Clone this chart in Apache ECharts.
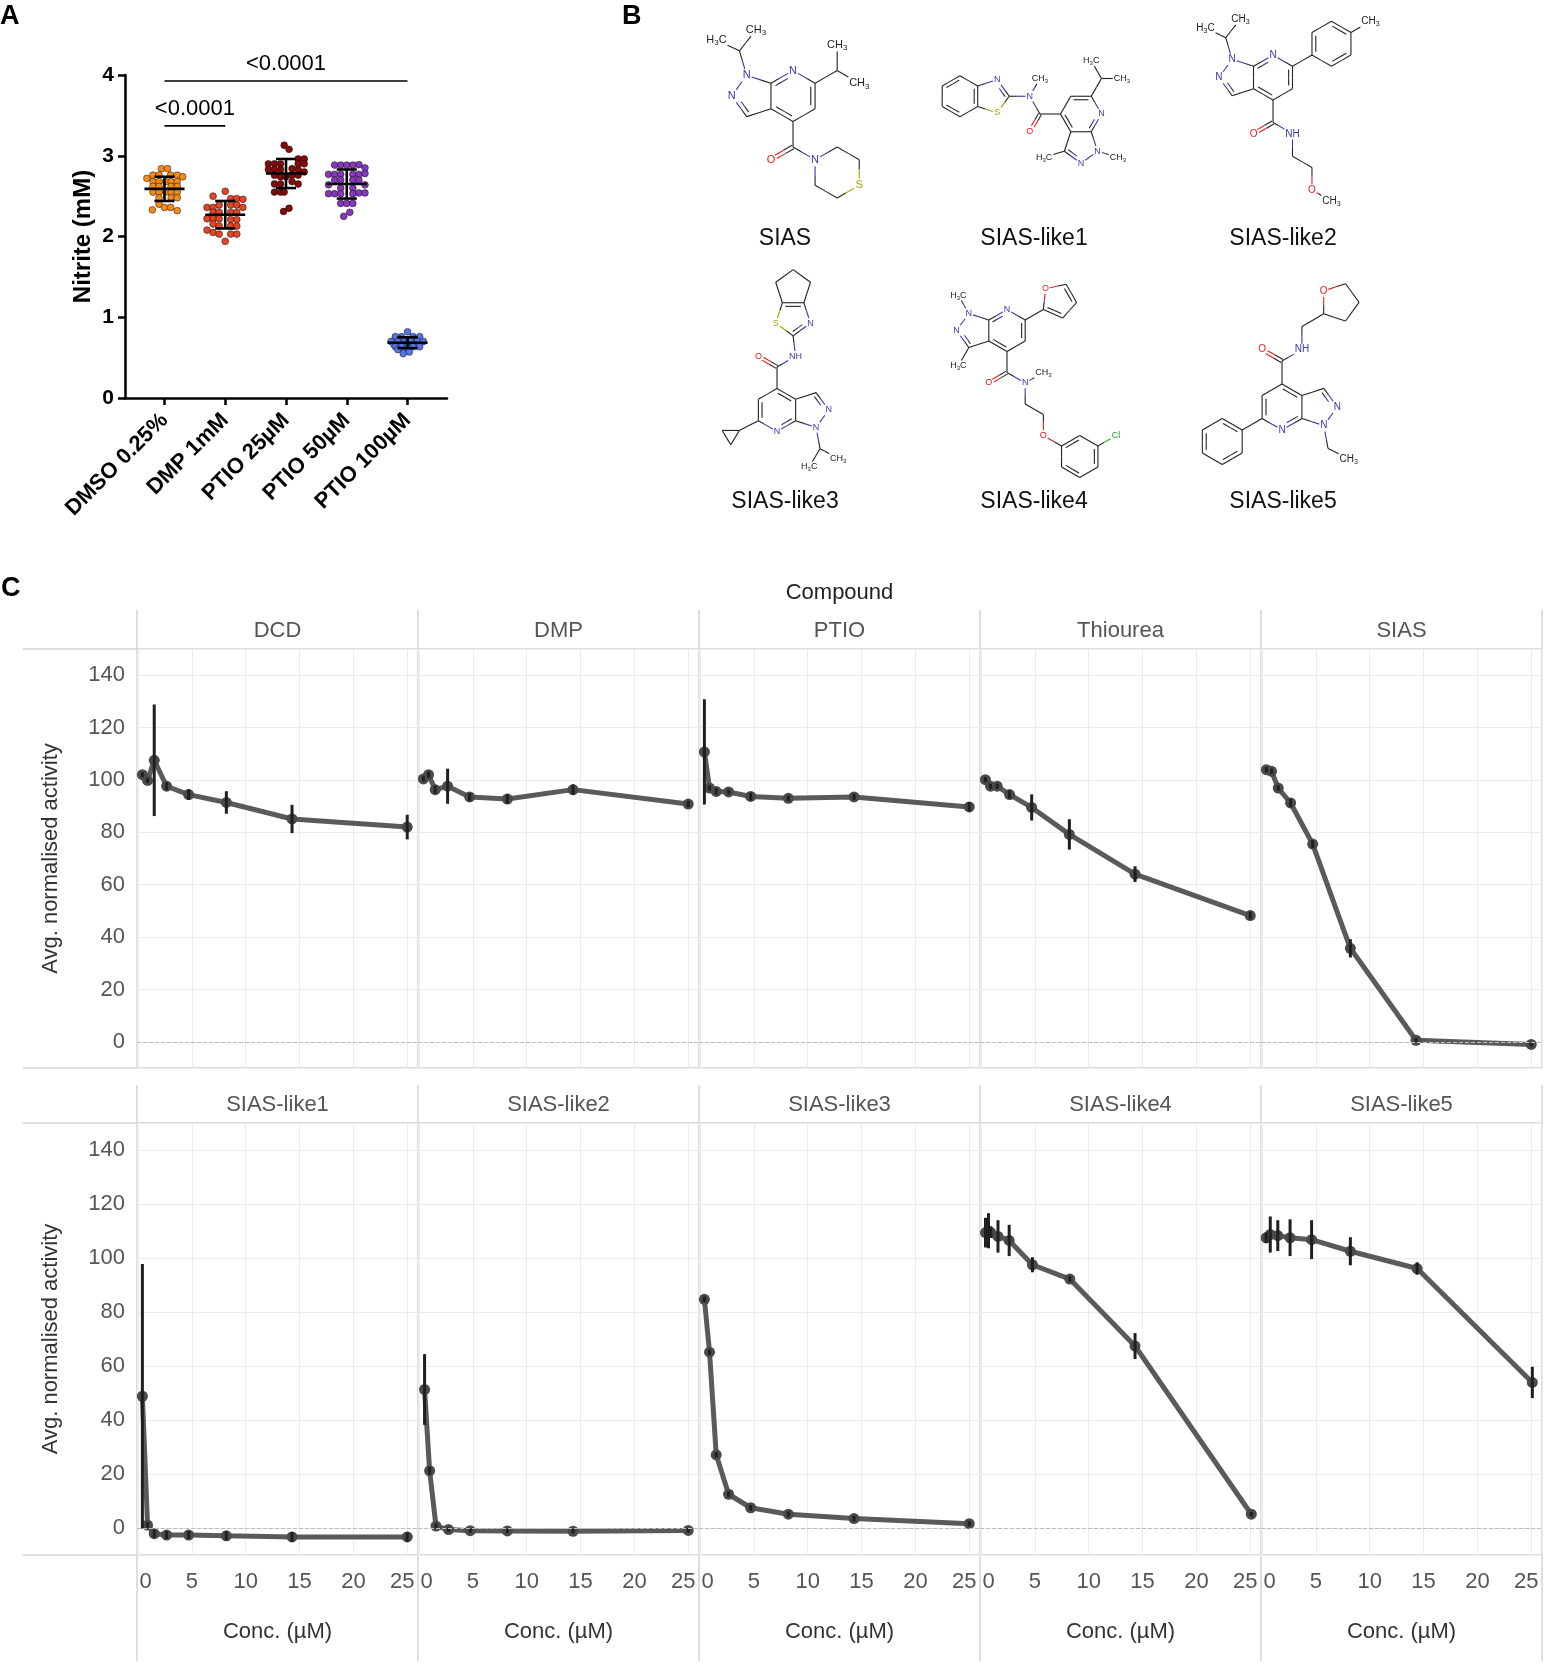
<!DOCTYPE html>
<html>
<head>
<meta charset="utf-8">
<script src="https://cdn.jsdelivr.net/npm/echarts@6.0.0/dist/echarts.min.js"></script>
<style>
html,body{margin:0;padding:0;background:#fff}
#main{width:1552px;height:1669px}
</style>
</head>
<body>
<div id="main"></div>
<script>
// ---------- panel A : nitrite per treatment (jitter offset, value) ----------
var groupNames = ['DMSO 0.25%', 'DMP 1mM', 'PTIO 25\u00B5M', 'PTIO 50\u00B5M', 'PTIO 100\u00B5M'];
var groupColors = ['#F38B1B', '#DF4727', '#820B0B', '#8538BA', '#5676E5'];
var dmsoPts = [[-0.05,2.84],[0.05,2.84],[-0.29,2.72],[-0.19,2.76],[-0.09,2.76],[0.10,2.76],[0.21,2.76],[0.30,2.74],
  [-0.19,2.68],[-0.09,2.68],[0.02,2.68],[0.11,2.68],[0.21,2.68],[-0.19,2.62],[-0.09,2.62],[0.11,2.62],[0.21,2.62],
  [-0.19,2.55],[-0.09,2.55],[0.02,2.55],[0.11,2.55],[0.21,2.55],[-0.09,2.48],[0.11,2.48],[0.21,2.48],
  [-0.09,2.40],[0,2.36],[0.10,2.36],[0.21,2.32],[-0.20,2.33]];
var dmpPts = [[0,2.56],[-0.20,2.50],[0.09,2.47],[0.19,2.47],[0.29,2.46],[-0.30,2.36],[-0.20,2.36],[-0.10,2.39],
  [0.09,2.39],[0.19,2.39],[0.29,2.36],[-0.20,2.30],[-0.10,2.30],[0.09,2.30],[0.19,2.30],[-0.30,2.22],[-0.20,2.22],
  [-0.10,2.22],[0.09,2.21],[0.19,2.21],[-0.20,2.155],[-0.10,2.13],[0.09,2.13],[0.19,2.13],[-0.30,2.08],
  [-0.20,2.05],[-0.10,2.03],[0.09,2.03],[0.19,2.03],[0,1.94]];
var ptio25Pts = [[-0.03,3.13],[0.05,3.08],[0.20,2.96],[0.30,2.96],[-0.29,2.90],[-0.19,2.90],[-0.09,2.90],[0.20,2.90],
  [0.30,2.90],[-0.29,2.83],[-0.19,2.83],[-0.09,2.83],[0.10,2.84],[0.20,2.83],[0.30,2.80],[-0.19,2.76],[-0.09,2.74],
  [0,2.74],[0.10,2.76],[0.20,2.76],[-0.19,2.65],[-0.09,2.65],[0.10,2.68],[0.20,2.65],[-0.19,2.55],[-0.09,2.55],
  [-0.03,2.55],[-0.04,2.31],[0.05,2.35]];
var ptio50Pts = [[-0.20,2.885],[-0.10,2.885],[0,2.885],[0.10,2.885],[0.20,2.89],[0.30,2.85],[-0.30,2.77],[-0.20,2.77],
  [-0.10,2.77],[0.10,2.77],[0.20,2.77],[0.30,2.78],[-0.20,2.70],[-0.10,2.70],[0.10,2.70],[0.20,2.70],[-0.30,2.64],
  [-0.10,2.60],[0.10,2.60],[0.30,2.64],[-0.30,2.53],[-0.20,2.53],[-0.10,2.53],[0.10,2.53],[0.20,2.54],[0.30,2.54],
  [-0.10,2.41],[0,2.41],[0.10,2.41],[0.05,2.30],[-0.05,2.25]];
var ptio100Pts = [[0,0.82],[-0.20,0.76],[-0.10,0.76],[0.09,0.76],[0.20,0.76],[-0.12,0.73],[0.12,0.73],[-0.27,0.70],
  [-0.16,0.70],[-0.05,0.70],[0.05,0.70],[0.16,0.70],[0.26,0.70],[-0.22,0.66],[-0.02,0.67],[0.12,0.66],[-0.20,0.635],
  [-0.10,0.635],[0,0.62],[0.09,0.635],[0.20,0.635],[-0.16,0.60],[-0.07,0.55],[0.03,0.57]];
var groupPts = [dmsoPts, dmpPts, ptio25Pts, ptio50Pts, ptio100Pts];
var groupMean = [2.59, 2.27, 2.78, 2.65, 0.685];
var groupSD = [0.15, 0.17, 0.18, 0.18, 0.067];
var pLabel = '<0.0001';

// ---------- panel C : dose response ----------
var compounds = ['DCD', 'DMP', 'PTIO', 'Thiourea', 'SIAS', 'SIAS-like1', 'SIAS-like2', 'SIAS-like3', 'SIAS-like4', 'SIAS-like5'];
var concA = [0.4, 0.88, 1.5, 2.65, 4.7, 8.2, 14.3, 25];
var concLike2 = [0.51, 0.98, 1.57, 2.74, 4.75, 8.2, 14.3, 25];
var concLike4 = [0.41, 0.69, 0.91, 1.57, 2.61, 4.77, 8.24, 14.3, 25.1];
var concLike5 = [0.38, 0.76, 1.46, 2.6, 4.6, 8.2, 14.4, 25.1];
var dcdMean = [102.0, 99.8, 107.5, 97.6, 94.4, 91.4, 85.1, 82.0];
var dcdSD = [1.0, 1.0, 21.3, 1.5, 2.0, 4.3, 5.4, 4.7];
var dmpMean = [100.4, 102.0, 96.3, 97.6, 93.5, 92.7, 96.3, 90.8];
var dmpSD = [1.0, 1.2, 1.5, 6.7, 1.5, 1.8, 2.0, 1.2];
var ptioMean = [110.7, 96.9, 95.6, 95.4, 93.7, 93.0, 93.5, 89.7];
var ptioSD = [20.1, 1.0, 1.2, 1.0, 1.5, 1.0, 1.2, 1.8];
var thioMean = [100.1, 97.6, 97.6, 94.4, 89.5, 79.2, 64.0, 48.2];
var thioSD = [1.0, 1.0, 1.0, 1.5, 5.0, 5.8, 3.0, 1.5];
var siasMean = [103.9, 103.3, 96.9, 91.2, 75.5, 35.7, 0.6, -1.0];
var siasSD = [1.0, 1.0, 1.0, 1.5, 1.5, 3.5, 0.8, 0.8];
var like1Mean = [48.8, 1.1, -2.1, -2.6, -2.6, -2.9, -3.3, -3.3];
var like1SD = [49.0, 1.0, 1.5, 1.5, 1.5, 1.7, 1.8, 1.8];
var like2Mean = [51.3, 21.2, 0.7, -0.6, -1.0, -1.1, -1.2, -0.9];
var like2SD = [13.1, 1.5, 1.0, 0.8, 0.8, 0.8, 0.8, 0.8];
var like3Mean = [84.7, 65.1, 27.1, 12.5, 7.5, 5.1, 3.5, 1.6];
var like3SD = [1.0, 1.0, 1.0, 1.0, 1.0, 1.0, 1.0, 1.0];
var like4Mean = [109.4, 110.1, 109.4, 108.0, 106.5, 97.5, 92.2, 67.4, 5.1];
var like4SD = [5.5, 6.5, 2.0, 6.0, 5.8, 2.8, 1.0, 4.8, 0.8];
var like5Mean = [107.5, 108.7, 108.3, 107.5, 106.8, 102.5, 96.1, 53.9];
var like5SD = [2.0, 6.7, 5.7, 6.8, 7.2, 5.2, 2.3, 5.8];
var concTicks = [0, 5, 10, 15, 20, 25];
var activityTicks = [0, 20, 40, 60, 80, 100, 120, 140];

var facetConc = [concA, concA, concA, concA, concA, concA, concLike2, concA, concLike4, concLike5];
var facetMean = [dcdMean, dmpMean, ptioMean, thioMean, siasMean, like1Mean, like2Mean, like3Mean, like4Mean, like5Mean];
var facetSD = [dcdSD, dmpSD, ptioSD, thioSD, siasSD, like1SD, like2SD, like3SD, like4SD, like5SD];

var FONT = '"Liberation Sans", Arial, Helvetica, sans-serif';
var PX0 = 137, PW = 281;
var ROWS = [{strip: 610, top: 649, h: 419, end: 1068}, {strip: 1085, top: 1123, h: 432, end: 1661}];

var chart = echarts.init(document.getElementById('main'));

var grids = [{left: 125, top: 75, width: 322, height: 323}];
var xAxes = [{
  gridIndex: 0, type: 'value', min: 0.35, max: 5.65,
  axisLine: {show: true, onZero: false, lineStyle: {color: '#000', width: 2.5}},
  axisTick: {show: true, length: 7, lineStyle: {color: '#000', width: 2.5}, customValues: [1, 2, 3, 4, 5]},
  axisLabel: {customValues: [1, 2, 3, 4, 5], rotate: 45, margin: 19, color: '#000', fontSize: 22, fontWeight: 'bold',
    fontFamily: FONT, formatter: function (v) { return groupNames[Math.round(v) - 1]; }},
  splitLine: {show: false}
}];
var yAxes = [{
  gridIndex: 0, type: 'value', min: 0, max: 4, interval: 1,
  axisLine: {show: true, lineStyle: {color: '#000', width: 2.5}},
  axisTick: {show: true, length: 7, lineStyle: {color: '#000', width: 2.5}},
  axisLabel: {color: '#000', fontSize: 21, fontWeight: 'bold', margin: 11, fontFamily: FONT},
  splitLine: {show: false},
  name: 'Nitrite (mM)', nameLocation: 'middle', nameGap: 30,
  nameTextStyle: {color: '#000', fontSize: 24, fontWeight: 'bold', fontFamily: FONT}
}];
var series = [];

groupPts.forEach(function (pts, g) {
  series.push({
    type: 'scatter', xAxisIndex: 0, yAxisIndex: 0, symbolSize: 6.8, z: 2,
    itemStyle: {color: groupColors[g], borderColor: 'rgba(0,0,0,0.65)', borderWidth: 0.7, opacity: 1},
    data: pts.map(function (p) { return [g + 1 + p[0], p[1]]; })
  });
});
series.push({
  type: 'custom', xAxisIndex: 0, yAxisIndex: 0, z: 5,
  data: groupMean.map(function (m, g) { return [g + 1, m, groupSD[g]]; }),
  encode: {x: 0, y: 1},
  renderItem: function (params, api) {
    var x = api.value(0), m = api.value(1), sd = api.value(2);
    var st = {stroke: '#000', lineWidth: 2.6};
    function seg(a, b) { return {type: 'line', shape: {x1: a[0], y1: a[1], x2: b[0], y2: b[1]}, style: st}; }
    return {type: 'group', children: [
      seg(api.coord([x - 0.33, m]), api.coord([x + 0.33, m])),
      seg(api.coord([x, m - sd]), api.coord([x, m + sd])),
      seg(api.coord([x - 0.165, m + sd]), api.coord([x + 0.165, m + sd])),
      seg(api.coord([x - 0.165, m - sd]), api.coord([x + 0.165, m - sd]))
    ]};
  }
});

// facets
compounds.forEach(function (name, k) {
  var r = Math.floor(k / 5), c = k % 5, row = ROWS[r];
  var gi = k + 1;
  grids.push({left: PX0 + PW * c, top: row.top, width: PW, height: row.h});
  xAxes.push({
    gridIndex: gi, type: 'value', min: -0.1, max: 26, splitNumber: 5,
    axisLine: {show: false}, axisTick: {show: false},
    axisLabel: {show: r === 1, customValues: concTicks, color: '#555', fontSize: 22, margin: 16, fontFamily: FONT,
      formatter: function (v) { return v === 0 ? '{l|0}' : (v === 25 ? '{r|25}' : String(v)); },
      rich: {l: {fontSize: 22, color: '#555', fontFamily: FONT, padding: [0, 0, 0, 15]},
        r: {fontSize: 22, color: '#555', fontFamily: FONT, padding: [0, 10, 0, 0]}}},
    splitLine: {show: true, lineStyle: {color: '#ececec', width: 1}},
    name: r === 1 ? 'Conc. (\u00B5M)' : '', nameLocation: 'middle', nameGap: 66,
    nameTextStyle: {color: '#333', fontSize: 22, fontFamily: FONT}
  });
  yAxes.push({
    gridIndex: gi, type: 'value', min: -10, max: 150, splitNumber: 8,
    axisLine: {show: false}, axisTick: {show: false},
    axisLabel: {show: c === 0, customValues: activityTicks, color: '#555', fontSize: 22, margin: 12, fontFamily: FONT},
    splitLine: {show: true, lineStyle: {color: '#ececec', width: 1}},
    name: c === 0 ? 'Avg. normalised activity' : '', nameLocation: 'middle', nameGap: 75,
    nameTextStyle: {color: '#333', fontSize: 22, fontFamily: FONT}
  });
  var conc = facetConc[k], mean = facetMean[k], sd = facetSD[k];
  series.push({
    type: 'line', xAxisIndex: gi, yAxisIndex: gi, z: 3,
    data: conc.map(function (x, i) { return [x, mean[i]]; }),
    lineStyle: {color: '#5a5a5a', width: 5},
    symbol: 'circle', symbolSize: 11, itemStyle: {color: '#4a4a4a'},
    markLine: {silent: true, symbol: 'none', label: {show: false},
      lineStyle: {color: '#bdbdbd', type: 'dashed', width: 1}, data: [{yAxis: 0}]}
  });
  series.push({
    type: 'custom', xAxisIndex: gi, yAxisIndex: gi, z: 4,
    data: conc.map(function (x, i) { return [x, mean[i] - sd[i], mean[i] + sd[i]]; }),
    encode: {x: 0, y: [1, 2]},
    renderItem: function (params, api) {
      var a = api.coord([api.value(0), api.value(1)]), b = api.coord([api.value(0), api.value(2)]);
      return {type: 'line', shape: {x1: a[0], y1: a[1], x2: b[0], y2: b[1]}, style: {stroke: '#1f1f1f', lineWidth: 3}};
    }
  });
});

// ---------- static decoration ----------
var gfx = [];
function gline(x1, y1, x2, y2, color, w) {
  gfx.push({type: 'line', silent: true, shape: {x1: x1, y1: y1, x2: x2, y2: y2}, style: {stroke: color, lineWidth: w}});
}
function gtext(x, y, t, size, color, weight, extra) {
  var st = {text: t, x: x, y: y, fill: color, fontSize: size, fontWeight: weight || 'normal', fontFamily: FONT,
    align: 'center', verticalAlign: 'middle', textAlign: 'center', textVerticalAlign: 'middle'};
  if (extra) for (var key in extra) st[key] = extra[key];
  gfx.push({type: 'text', silent: true, z: 10, style: st});
}

gtext(0, 17, 'A', 27, '#000', 'bold', {align: 'left', textAlign: 'left'});
gtext(622, 17, 'B', 27, '#000', 'bold', {align: 'left', textAlign: 'left'});
gtext(1, 589, 'C', 27, '#000', 'bold', {align: 'left', textAlign: 'left'});

// facet frame
[649, 1068, 1123, 1555].forEach(function (y) { gline(23, y, PX0 + PW * 5, y, '#d3d3d3', 1.5); });
for (var kk = 0; kk <= 5; kk++) {
  gline(PX0 + PW * kk, ROWS[0].strip, PX0 + PW * kk, ROWS[0].end, '#d3d3d3', 1.5);
  gline(PX0 + PW * kk, ROWS[1].strip, PX0 + PW * kk, ROWS[1].end, '#d3d3d3', 1.5);
}
compounds.forEach(function (name, k) {
  var r = Math.floor(k / 5), c = k % 5;
  gtext(PX0 + PW * (c + 0.5), (ROWS[r].strip + ROWS[r].top) / 2 + 1, name, 22, '#555');
});
gtext(PX0 + PW * 2.5, 593, 'Compound', 22, '#222');

// ---------- panel B : structures ----------
function elemColor(l) {
  if (!l) return '#222';
  if (l === 'Cl') return '#22a022';
  if (l[0] === 'N') return '#3838b0';
  if (l[0] === 'O') return '#e4201e';
  if (l[0] === 'S') return '#a6a000';
  return '#222';
}
function ID(p) { return [p[0], p[1]]; }
function R180(p) { return [-p[0], -p[1]]; }
function FLIP(p) { return [-p[1], -p[0]]; }
function molecule(T, extra, extraBonds, ox, oy, s) {
  var core = [[0, -1, 'N'], [0.866, -0.5], [0.866, 0.5], [0, 1], [-0.866, 0.5], [-0.866, -0.5],
    [-1.817, -0.809, 'N'], [-2.405, 0, 'N'], [-1.817, 0.809]];
  var pc = T([0, 0]), zc = T([-1.554, 0]);
  var atoms = core.map(function (p) { var q = T(p); return [q[0], q[1], p[2] || '']; }).concat(extra.map(function (a) {
    return [a[0], a[1], a[2] || ''];
  }));
  var bonds = [[0, 1, 1], [1, 2, 2, pc], [2, 3, 1], [3, 4, 2, pc], [4, 5, 1], [5, 0, 2, pc], [5, 6, 1], [6, 7, 1],
    [7, 8, 2, zc], [8, 4, 1]].concat(extraBonds);
  return {atoms: atoms, bonds: bonds, ox: ox, oy: oy, s: s};
}
function drawMol(m) {
  var fs = Math.round(m.s * 0.44);
  var P = m.atoms.map(function (a) { return [m.ox + a[0] * m.s, m.oy + a[1] * m.s]; });
  function box(l) {
    if (!l) return null;
    var w = 0;
    for (var i = 0; i < l.length; i++) w += /\d/.test(l[i]) ? fs * 0.42 : (l[i] === 'l' ? fs * 0.3 : fs * 0.68);
    return [w / 2 + 1.2, fs * 0.58];
  }
  function clip(p, q, l) {
    var b = box(l);
    if (!b) return p;
    var dx = q[0] - p[0], dy = q[1] - p[1], L = Math.hypot(dx, dy), ux = dx / L, uy = dy / L;
    var t = Math.min(Math.abs(ux) > 1e-6 ? b[0] / Math.abs(ux) : 1e9, Math.abs(uy) > 1e-6 ? b[1] / Math.abs(uy) : 1e9);
    return [p[0] + ux * t, p[1] + uy * t];
  }
  function seg(a, b, la, lb) {
    var mid = [(a[0] + b[0]) / 2, (a[1] + b[1]) / 2];
    gline(a[0], a[1], mid[0], mid[1], elemColor(la), 1.1);
    gline(mid[0], mid[1], b[0], b[1], elemColor(lb), 1.1);
  }
  m.bonds.forEach(function (bd) {
    var la = m.atoms[bd[0]][2], lb = m.atoms[bd[1]][2];
    var a = clip(P[bd[0]], P[bd[1]], la), b = clip(P[bd[1]], P[bd[0]], lb);
    var dx = b[0] - a[0], dy = b[1] - a[1], L = Math.hypot(dx, dy), nx = -dy / L, ny = dx / L;
    if (bd[2] === 2 && !bd[3]) {
      var o = m.s * 0.075;
      seg([a[0] + nx * o, a[1] + ny * o], [b[0] + nx * o, b[1] + ny * o], la, lb);
      seg([a[0] - nx * o, a[1] - ny * o], [b[0] - nx * o, b[1] - ny * o], la, lb);
      return;
    }
    seg(a, b, la, lb);
    if (bd[2] === 2) {
      var c = [m.ox + bd[3][0] * m.s, m.oy + bd[3][1] * m.s];
      var mx = (a[0] + b[0]) / 2, my = (a[1] + b[1]) / 2;
      var side = ((c[0] - mx) * nx + (c[1] - my) * ny) > 0 ? 1 : -1;
      var off = m.s * 0.17 * side, sh = 0.14;
      seg([a[0] + dx * sh + nx * off, a[1] + dy * sh + ny * off], [b[0] - dx * sh + nx * off, b[1] - dy * sh + ny * off], la, lb);
    }
  });
  m.atoms.forEach(function (a, i) {
    if (!a[2]) return;
    var col = elemColor(a[2]);
    var rich = a[2].split(/(\d)/).filter(Boolean).map(function (p) {
      return /\d/.test(p) ? '{s|' + p + '}' : '{a|' + p + '}';
    }).join('');
    gfx.push({type: 'text', silent: true, z: 10, style: {
      text: rich, x: P[i][0], y: P[i][1], fill: col, fontFamily: FONT, fontSize: fs,
      align: 'center', verticalAlign: 'middle', textAlign: 'center', textVerticalAlign: 'middle',
      rich: {a: {fontSize: fs, fill: col, fontFamily: FONT, lineHeight: fs * 1.3},
        s: {fontSize: Math.round(fs * 0.7), fill: col, fontFamily: FONT, verticalAlign: 'bottom', lineHeight: fs * 0.95}}
    }});
  });
}

var mols = [
  molecule(ID, [[-2.1, -1.77], [-3.0, -2.2, 'H3C'], [-1.45, -2.6, 'CH3'], [1.732, -1.0], [1.732, -2.0, 'CH3'], [2.6, -0.5, 'CH3'],
    [0, 2], [-0.866, 2.5, 'O'], [0.866, 2.5, 'N'], [1.732, 2.0], [2.598, 2.5], [2.598, 3.5, 'S'], [1.732, 4.0], [0.866, 3.5]],
    [[6, 9, 1], [9, 10, 1], [9, 11, 1], [1, 12, 1], [12, 13, 1], [12, 14, 1], [3, 15, 1], [15, 16, 2], [15, 17, 1],
      [17, 18, 1], [18, 19, 1], [19, 20, 1], [20, 21, 1], [21, 22, 1], [22, 17, 1]], 793, 96, 25.5),
  molecule(FLIP, [[-2, 0], [-2.5, 0.866, 'O'], [-2.5, -0.866, 'N'], [-2.0, -1.732, 'CH3'], [-3.5, -0.866],
    [-4.088, -1.675, 'N'], [-5.039, -1.366], [-5.039, -0.366], [-4.088, -0.057, 'S'], [-5.905, -1.866], [-6.771, -1.366],
    [-6.771, -0.366], [-5.905, 0.134], [1, -1.732], [0.5, -2.598, 'H3C'], [2, -1.732, 'CH3'], [1.8, 2.1, 'CH3'], [-1.8, 2.1, 'H3C']],
    [[3, 9, 1], [9, 10, 2], [9, 11, 1], [11, 12, 1], [11, 13, 1], [13, 14, 2, [-4.351, -0.866]], [14, 15, 1],
      [15, 16, 2, [-5.905, -0.866]], [16, 17, 1], [17, 13, 1], [15, 18, 1], [18, 19, 2, [-5.905, -0.866]], [19, 20, 1],
      [20, 21, 2, [-5.905, -0.866]], [21, 16, 1], [1, 22, 1], [22, 23, 1], [22, 24, 1], [6, 25, 1], [8, 26, 1]], 1081, 114, 20.5),
  molecule(ID, [[-2.1, -1.77], [-3.0, -2.2, 'H3C'], [-1.45, -2.6, 'CH3'], [1.732, -1.0], [1.732, -2.0], [2.598, -2.5],
    [3.464, -2.0], [3.464, -1.0], [2.598, -0.5], [4.33, -2.5, 'CH3'], [0, 2], [-0.866, 2.5, 'O'], [0.866, 2.5, 'NH'],
    [0.866, 3.5], [1.732, 4.0], [1.732, 5.0, 'O'], [2.598, 5.5, 'CH3']],
    [[6, 9, 1], [9, 10, 1], [9, 11, 1], [1, 12, 1], [12, 13, 2, [2.598, -1.5]], [13, 14, 1], [14, 15, 2, [2.598, -1.5]],
      [15, 16, 1], [16, 17, 2, [2.598, -1.5]], [17, 12, 1], [15, 18, 1], [3, 19, 1], [19, 20, 2], [19, 21, 1],
      [21, 22, 1], [22, 23, 1], [23, 24, 1], [24, 25, 1]], 1273, 77.5, 22.5),
  molecule(R180, [[-1.75, 0.95], [-2.55, 0.95], [-2.15, 1.62], [2.0, 1.8], [2.85, 2.25, 'CH3'], [1.5, 2.65, 'H3C'],
    [0, -2], [-0.866, -2.5, 'O'], [0.866, -2.5, 'NH'], [0.75, -3.45], [1.559, -4.038, 'N'], [1.25, -4.989], [0.25, -4.989],
    [-0.059, -4.038, 'S'], [1.559, -5.94], [0.75, -6.528], [-0.059, -5.94]],
    [[1, 9, 1], [9, 10, 1], [10, 11, 1], [11, 9, 1], [6, 12, 1], [12, 13, 1], [12, 14, 1], [3, 15, 1], [15, 16, 2],
      [15, 17, 1], [17, 18, 1], [18, 19, 2, [0.75, -4.301]], [19, 20, 1], [20, 21, 2, [0.75, -4.301]], [21, 22, 1],
      [22, 18, 1], [20, 23, 1], [23, 24, 1], [24, 25, 1], [25, 21, 1]], 777, 410, 21.5),
  molecule(ID, [[-2.317, -1.675, 'H3C'], [-2.317, 1.675, 'H3C'], [1.732, -1.0], [2.646, -0.593], [3.315, -1.336],
    [2.815, -2.203], [1.837, -1.995, 'O'], [0, 2], [-0.866, 2.5, 'O'], [0.866, 2.5, 'N'], [1.732, 2.0, 'CH3'],
    [0.866, 3.5], [1.732, 4.0], [1.732, 5.0, 'O'], [2.598, 5.5], [3.464, 5.0], [4.33, 5.5], [4.33, 6.5], [3.464, 7.0],
    [2.598, 6.5], [5.196, 5.0, 'Cl']],
    [[6, 9, 1], [8, 10, 1], [1, 11, 1], [11, 12, 2, [2.469, -1.426]], [12, 13, 1], [13, 14, 2, [2.469, -1.426]],
      [14, 15, 1], [15, 11, 1], [3, 16, 1], [16, 17, 2], [16, 18, 1], [18, 19, 1], [18, 20, 1], [20, 21, 1], [21, 22, 1],
      [22, 23, 1], [23, 24, 2, [3.464, 6.0]], [24, 25, 1], [25, 26, 2, [3.464, 6.0]], [26, 27, 1],
      [27, 28, 2, [3.464, 6.0]], [28, 23, 1], [25, 29, 1]], 1007, 330.5, 21),
  molecule(R180, [[-1.732, 1.0], [-2.598, 0.5], [-3.464, 1.0], [-3.464, 2.0], [-2.598, 2.5], [-1.732, 2.0],
    [2.0, 1.8], [2.9, 2.25, 'CH3'], [0, -2], [-0.866, -2.5, 'O'], [0.866, -2.5, 'NH'], [0.866, -3.5], [1.812, -4.05],
    [1.812, -5.05, 'O'], [2.763, -5.359], [3.351, -4.55], [2.763, -3.741]],
    [[1, 9, 1], [9, 10, 2, [-2.598, 1.5]], [10, 11, 1], [11, 12, 2, [-2.598, 1.5]], [12, 13, 1],
      [13, 14, 2, [-2.598, 1.5]], [14, 9, 1], [6, 15, 1], [15, 16, 1], [3, 17, 1], [17, 18, 2], [17, 19, 1],
      [19, 20, 1], [20, 21, 1], [21, 22, 1], [22, 23, 1], [23, 24, 1], [24, 25, 1], [25, 21, 1]], 1282, 407, 23)
];
mols.forEach(drawMol);
var molNames = ['SIAS', 'SIAS-like1', 'SIAS-like2', 'SIAS-like3', 'SIAS-like4', 'SIAS-like5'];
molNames.forEach(function (n, i) {
  gtext([785, 1034, 1283][i % 3], i < 3 ? 239 : 502, n, 23, '#111');
});

chart.setOption({
  animation: false,
  backgroundColor: '#fff',
  textStyle: {fontFamily: FONT},
  grid: grids, xAxis: xAxes, yAxis: yAxes, series: series, graphic: gfx
});

// significance brackets, placed through panel A scales
function px(x, y) { return chart.convertToPixel({xAxisIndex: 0, yAxisIndex: 0}, [x, y]); }
var a1 = px(1, 3.37), a2 = px(2, 3.37), t1 = px(1.5, 3.575);
var b1 = px(1, 3.926), b2 = px(5, 3.926), t2 = px(3, 4.135);
gline(a1[0], a1[1], a2[0], a2[1], '#000', 1.6);
gline(b1[0], b1[1], b2[0], b2[1], '#000', 1.6);
gtext(t1[0], t1[1], pLabel, 22, '#000');
gtext(t2[0], t2[1], pLabel, 22, '#000');
chart.setOption({graphic: gfx});
</script>
</body>
</html>
